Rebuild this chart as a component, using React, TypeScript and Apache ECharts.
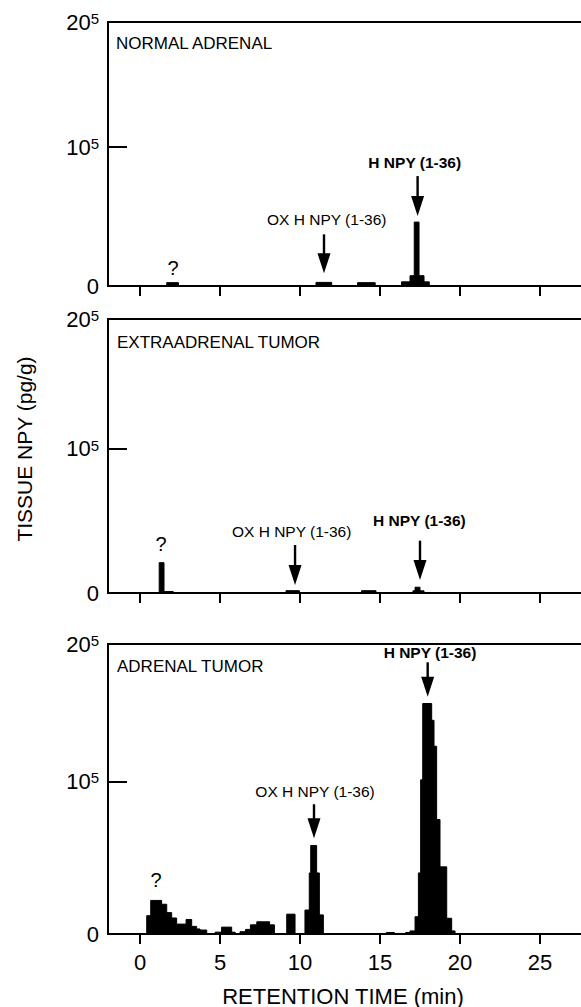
import React, { useEffect, useRef } from "react";
import * as echarts from "echarts";

const FONT = '"Liberation Sans", Arial, Helvetica, sans-serif';

// Panel titles
const panelTitles = ["NORMAL ADRENAL", "EXTRAADRENAL TUMOR", "ADRENAL TUMOR"];

// Axis ticks
const xTickValues = [0, 5, 10, 15, 20, 25];
const yTickValues = [0, 100, 190];
const yTickBase = ["0", "10", "20"];
const yTickExp = ["", "5", "5"];
const yMidTick = [100];

// Fraction steps: [start min, end min, tissue NPY (relative units, 100 = 10^5)]
const normalSteps = [
  [1.67, 2.4, 2.4],
  [11.0, 11.98, 2.6],
  [13.6, 14.7, 2.4],
  [16.35, 16.875, 3],
  [16.875, 17.14, 7.4],
  [17.14, 17.44, 46],
  [17.44, 17.75, 7.4],
  [17.75, 18.08, 3],
];

const extraSteps = [
  [1.2, 1.5, 21],
  [1.5, 2.08, 1],
  [9.125, 9.96, 1.6],
  [13.85, 14.75, 1.6],
  [17.06, 17.19, 1.5],
  [17.19, 17.5, 4],
  [17.5, 17.75, 1.5],
];

const tumorSteps = [
  [0.42, 0.67, 12],
  [0.67, 1.35, 22],
  [1.35, 1.67, 19.5],
  [1.67, 1.98, 14],
  [1.98, 2.29, 10.5],
  [2.29, 2.88, 6.5],
  [2.88, 3.23, 9.5],
  [3.23, 3.54, 5],
  [3.54, 3.75, 3.3],
  [3.75, 4.17, 2.6],
  [4.7, 5.1, 1.2],
  [5.1, 5.73, 4.5],
  [5.73, 5.95, 1.2],
  [6.25, 6.6, 1.5],
  [6.6, 6.9, 3],
  [6.9, 7.3, 6],
  [7.3, 8.1, 8],
  [8.1, 8.4, 6],
  [9.17, 9.69, 13],
  [10.31, 10.58, 15.7],
  [10.58, 10.67, 40],
  [10.67, 11.04, 58],
  [11.04, 11.21, 40],
  [11.21, 11.46, 12.5],
  [15.4, 15.9, 1],
  [16.6, 16.875, 1],
  [16.875, 17.19, 2],
  [17.19, 17.4, 11.3],
  [17.4, 17.54, 40],
  [17.54, 17.67, 101],
  [17.67, 18.23, 151],
  [18.23, 18.375, 140],
  [18.375, 18.54, 123],
  [18.54, 18.75, 75],
  [18.75, 19.17, 44],
  [19.17, 19.48, 10.3],
  [19.48, 19.69, 2],
];

// Arrows: [time, tip value, tail value]
const normalArrows = [
  [11.5, 9.1, 37.2],
  [17.35, 50.4, 79.1],
];
const extraArrows = [
  [9.69, 5.5, 33.3],
  [17.5, 9, 36.3],
];
const tumorArrows = [
  [10.875, 62.7, 85],
  [17.98, 155.5, 178],
];

// Peak names and label anchors: [time, value, name index]
const peakNames = ["?", "OX H NPY (1-36)", "H NPY (1-36)"];
const normalLabels = [
  [2.06, 13.3, 0],
  [11.67, 48.2, 1],
  [17.17, 88.8, 2],
];
const extraLabels = [
  [1.31, 34, 0],
  [9.48, 42.3, 1],
  [17.46, 50.3, 2],
];
const tumorLabels = [
  [1.0, 35.4, 0],
  [10.94, 93.4, 1],
  [18.125, 184.5, 2],
];

const stepsByPanel = [normalSteps, extraSteps, tumorSteps];
const arrowsByPanel = [normalArrows, extraArrows, tumorArrows];
const labelsByPanel = [normalLabels, extraLabels, tumorLabels];

const gridLayout = [
  { top: 22, height: 264 },
  { top: 319, height: 274 },
  { top: 644, height: 290 },
];

function renderBar(params: any, api: any) {
  const p0 = api.coord([api.value(0), 0]);
  const p1 = api.coord([api.value(1), api.value(2)]);
  return {
    type: "rect",
    shape: { x: p0[0], y: p1[1], width: p1[0] - p0[0], height: p0[1] - p1[1] },
    style: { fill: "#000", stroke: "#000", lineWidth: 1 },
  };
}

function renderArrow(params: any, api: any) {
  const tip = api.coord([api.value(0), api.value(1)]);
  const tail = api.coord([api.value(0), api.value(2)]);
  const headH = 20;
  const headW = 6.5;
  return {
    type: "group",
    children: [
      {
        type: "line",
        shape: { x1: tail[0], y1: tail[1], x2: tip[0], y2: tip[1] - headH + 2 },
        style: { stroke: "#000", lineWidth: 2.4 },
      },
      {
        type: "polygon",
        shape: {
          points: [
            [tip[0] - headW, tip[1] - headH],
            [tip[0] + headW, tip[1] - headH],
            [tip[0], tip[1]],
          ],
        },
        style: { fill: "#000" },
      },
    ],
  };
}

function renderLabel(params: any, api: any) {
  const p = api.coord([api.value(0), api.value(1)]);
  const k = api.value(2);
  return {
    type: "text",
    x: p[0],
    y: p[1],
    style: {
      text: peakNames[k],
      fill: "#000",
      fontFamily: FONT,
      fontSize: k === 0 ? 20 : 15.5,
      fontWeight: k === 2 ? "bold" : "normal",
      align: "center",
      verticalAlign: "middle",
    },
  };
}

function buildOption() {
  const grid = gridLayout.map((g) => ({
    left: 108,
    width: 480,
    top: g.top,
    height: g.height,
    show: true,
    borderColor: "#000",
    borderWidth: 2,
    backgroundColor: "transparent",
  }));
  const xAxis = [0, 1, 2].map((i) => ({
    type: "value",
    gridIndex: i,
    min: -2,
    max: 28,
    axisLine: { show: true, onZero: false, lineStyle: { color: "#000", width: 2 } },
    axisTick: {
      show: true,
      customValues: xTickValues,
      length: 10,
      inside: false,
      lineStyle: { color: "#000", width: 2 },
    },
    axisLabel: {
      show: i === 2,
      customValues: xTickValues,
      fontSize: 22,
      fontFamily: FONT,
      color: "#000",
      margin: 17,
    },
    splitLine: { show: false },
  }));
  const yAxis = [0, 1, 2].map((i) => ({
    type: "value",
    gridIndex: i,
    min: 0,
    max: 190,
    axisLine: { show: true, onZero: false, lineStyle: { color: "#000", width: 2 } },
    axisTick: {
      show: true,
      customValues: yMidTick,
      inside: true,
      length: 19,
      lineStyle: { color: "#000", width: 2 },
    },
    axisLabel: {
      customValues: yTickValues,
      margin: 9,
      formatter: (v: number) => {
        const k = yTickValues.indexOf(v);
        if (k < 0) return "";
        return yTickExp[k]
          ? `{b|${yTickBase[k]}}{s|${yTickExp[k]}}`
          : `{b|${yTickBase[k]}}`;
      },
      rich: {
        b: { fontSize: 22, fontFamily: FONT, color: "#000" },
        s: { fontSize: 15, fontFamily: FONT, color: "#000", verticalAlign: "top" },
      },
    },
    splitLine: { show: false },
  }));
  const series: any[] = [];
  for (let i = 0; i < 3; i++) {
    series.push({
      type: "custom",
      xAxisIndex: i,
      yAxisIndex: i,
      data: stepsByPanel[i],
      encode: { x: [0, 1], y: 2 },
      renderItem: renderBar,
      silent: true,
      clip: false,
    });
    series.push({
      type: "custom",
      xAxisIndex: i,
      yAxisIndex: i,
      data: arrowsByPanel[i],
      encode: { x: 0, y: [1, 2] },
      renderItem: renderArrow,
      silent: true,
      clip: false,
    });
    series.push({
      type: "custom",
      xAxisIndex: i,
      yAxisIndex: i,
      data: labelsByPanel[i],
      encode: { x: 0, y: 1 },
      renderItem: renderLabel,
      silent: true,
      clip: false,
    });
  }
  const titleAnchors = [
    { x: 116, y: 43 },
    { x: 117, y: 342 },
    { x: 117, y: 666 },
  ];
  const graphic: any[] = panelTitles.map((t, i) => ({
    type: "text",
    x: titleAnchors[i].x,
    y: titleAnchors[i].y,
    style: {
      text: t,
      fill: "#000",
      fontFamily: FONT,
      fontSize: 17,
      align: "left",
      verticalAlign: "middle",
    },
  }));
  graphic.push({
    type: "text",
    x: 24,
    y: 449,
    rotation: Math.PI / 2,
    style: {
      text: "TISSUE NPY (pg/g)",
      fill: "#000",
      fontFamily: FONT,
      fontSize: 21,
      align: "center",
      verticalAlign: "middle",
    },
  });
  graphic.push({
    type: "text",
    x: 343,
    y: 996,
    style: {
      text: "RETENTION TIME (min)",
      fill: "#000",
      fontFamily: FONT,
      fontSize: 22,
      align: "center",
      verticalAlign: "middle",
    },
  });
  return {
    animation: false,
    backgroundColor: "#fff",
    grid,
    xAxis,
    yAxis,
    series,
    graphic,
  };
}

export default function App() {
  const ref = useRef<HTMLDivElement>(null);
  useEffect(() => {
    if (!ref.current) return;
    const chart = echarts.init(ref.current, null, { renderer: "svg" });
    chart.setOption(buildOption() as any);
    return () => chart.dispose();
  }, []);
  return (
    <div
      style={{
        position: "fixed",
        left: 0,
        top: 0,
        width: 581,
        height: 1007,
        overflow: "hidden",
        background: "#fff",
      }}
    >
      <div ref={ref} style={{ width: 620, height: 1007 }} />
    </div>
  );
}
